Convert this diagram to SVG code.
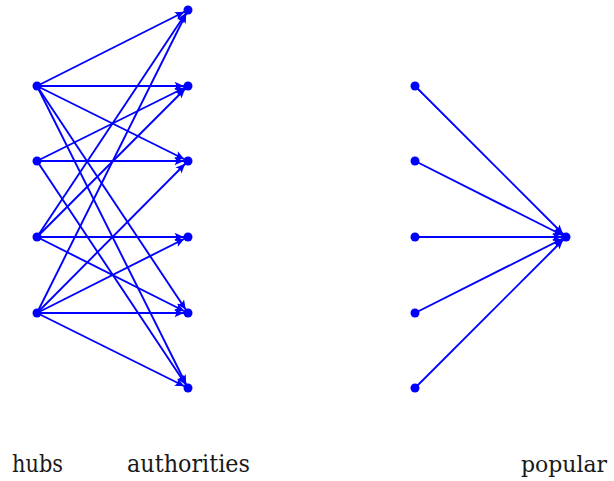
<svg xmlns="http://www.w3.org/2000/svg" width="614" height="481" viewBox="0 0 614 481">
<style>
.e{stroke:#0000ff;stroke-width:1.9;fill:none}
.n{fill:#0000ff}
.t{font-family:"DejaVu Serif","Liberation Serif",serif;font-size:24px;fill:#1a1a1a;text-anchor:middle}
</style>
<defs>
<marker id="ah" markerUnits="userSpaceOnUse" markerWidth="20" markerHeight="20" refX="4.5" refY="0" orient="auto" overflow="visible">
<path d="M0.5,0 L-9,-4.2 Q-5.8,0 -9,4.2 Z" fill="#0000ff"/>
</marker>
</defs>
<g id="connectors" marker-end="url(#ah)">
<path class="e" d="M37,86 L188,10"/>
<path class="e" d="M37,86 L188,86"/>
<path class="e" d="M37,86 L188,161"/>
<path class="e" d="M37,86 L188,313"/>
<path class="e" d="M37,86 L188,388"/>
<path class="e" d="M37,161 L188,86"/>
<path class="e" d="M37,161 L188,161"/>
<path class="e" d="M37,161 L188,388"/>
<path class="e" d="M37,237 L188,10"/>
<path class="e" d="M37,237 L188,86"/>
<path class="e" d="M37,237 L188,237"/>
<path class="e" d="M37,237 L188,313"/>
<path class="e" d="M37,313 L188,10"/>
<path class="e" d="M37,313 L188,161"/>
<path class="e" d="M37,313 L188,237"/>
<path class="e" d="M37,313 L188,313"/>
<path class="e" d="M37,313 L188,388"/>
<path class="e" d="M415,86 L566,237"/>
<path class="e" d="M415,161 L566,237"/>
<path class="e" d="M415,237 L566,237"/>
<path class="e" d="M415,313 L566,237"/>
<path class="e" d="M415,388 L566,237"/>
</g>
<g id="h1"><circle class="n" cx="37" cy="86" r="4.5"/></g>
<g id="h2"><circle class="n" cx="37" cy="161" r="4.5"/></g>
<g id="h3"><circle class="n" cx="37" cy="237" r="4.5"/></g>
<g id="h4"><circle class="n" cx="37" cy="313" r="4.5"/></g>
<g id="a1"><circle class="n" cx="188" cy="10" r="4.5"/></g>
<g id="a2"><circle class="n" cx="188" cy="86" r="4.5"/></g>
<g id="a3"><circle class="n" cx="188" cy="161" r="4.5"/></g>
<g id="a4"><circle class="n" cx="188" cy="237" r="4.5"/></g>
<g id="a5"><circle class="n" cx="188" cy="313" r="4.5"/></g>
<g id="a6"><circle class="n" cx="188" cy="388" r="4.5"/></g>
<g id="r1"><circle class="n" cx="415" cy="86" r="4.5"/></g>
<g id="r2"><circle class="n" cx="415" cy="161" r="4.5"/></g>
<g id="r3"><circle class="n" cx="415" cy="237" r="4.5"/></g>
<g id="r4"><circle class="n" cx="415" cy="313" r="4.5"/></g>
<g id="r5"><circle class="n" cx="415" cy="388" r="4.5"/></g>
<g id="popular"><circle class="n" cx="566" cy="237" r="4.5"/></g>
<g id="labels">
<text class="t" x="37.5" y="472" textLength="51" lengthAdjust="spacingAndGlyphs">hubs</text>
<text class="t" x="188.5" y="472" textLength="123" lengthAdjust="spacingAndGlyphs">authorities</text>
<text class="t" x="564" y="472" style="font-size:22px">popular</text>
</g>
</svg>
